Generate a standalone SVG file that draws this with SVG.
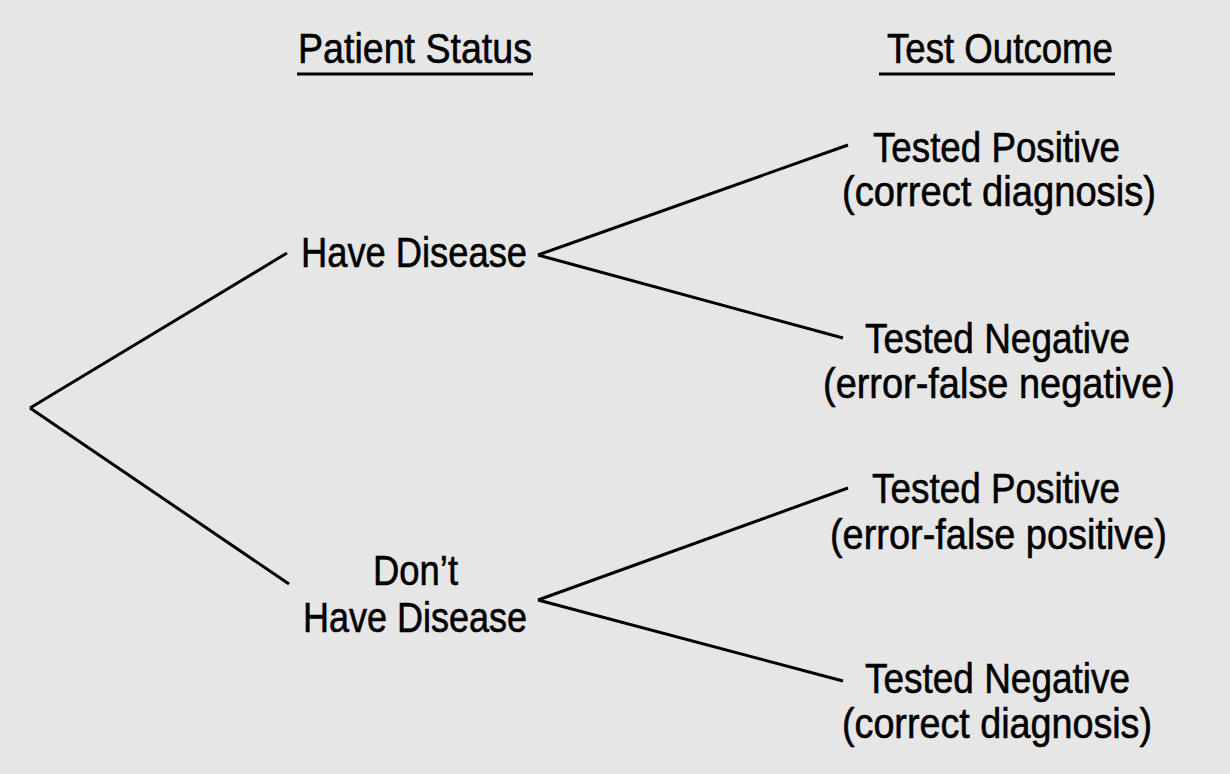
<svg xmlns="http://www.w3.org/2000/svg" width="1230" height="774" viewBox="0 0 1230 774">
<style>
.t{font-family:"Liberation Sans",Arial,sans-serif;font-size:43px;fill:#000;stroke:#000;stroke-width:0.6}
.c line{stroke:#000;stroke-width:3;stroke-linecap:butt}
.u{stroke:#000;stroke-width:3}
</style>
<rect width="1230" height="774" fill="#e6e6e6"/>
<g id="header-patient">
<text class="t" x="298" y="63" textLength="234" lengthAdjust="spacingAndGlyphs">Patient Status</text>
<line class="u" x1="297" y1="74" x2="533" y2="74"/>
</g>
<g id="header-test">
<text class="t" x="887" y="63" textLength="226" lengthAdjust="spacingAndGlyphs">Test Outcome</text>
<line class="u" x1="879" y1="74" x2="1115" y2="74"/>
</g>
<g id="have-disease">
<text class="t" x="301" y="267" textLength="226" lengthAdjust="spacingAndGlyphs">Have Disease</text>
</g>
<g id="dont-have-disease">
<text class="t" x="373" y="585" textLength="85" lengthAdjust="spacingAndGlyphs">Don’t</text>
<text class="t" x="303" y="632" textLength="224" lengthAdjust="spacingAndGlyphs">Have Disease</text>
</g>
<g id="pos-correct">
<text class="t" x="873" y="162" textLength="247" lengthAdjust="spacingAndGlyphs">Tested Positive</text>
<text class="t" x="842" y="206" textLength="314" lengthAdjust="spacingAndGlyphs">(correct diagnosis)</text>
</g>
<g id="neg-false">
<text class="t" x="865" y="353" textLength="265" lengthAdjust="spacingAndGlyphs">Tested Negative</text>
<text class="t" x="823" y="398" textLength="352" lengthAdjust="spacingAndGlyphs">(error-false negative)</text>
</g>
<g id="pos-false">
<text class="t" x="872" y="503" textLength="248" lengthAdjust="spacingAndGlyphs">Tested Positive</text>
<text class="t" x="830" y="549" textLength="337" lengthAdjust="spacingAndGlyphs">(error-false positive)</text>
</g>
<g id="neg-correct">
<text class="t" x="865" y="693" textLength="265" lengthAdjust="spacingAndGlyphs">Tested Negative</text>
<text class="t" x="842" y="738" textLength="310" lengthAdjust="spacingAndGlyphs">(correct diagnosis)</text>
</g>
<g id="connectors" class="c">
<line x1="30" y1="408" x2="287" y2="253"/>
<line x1="30" y1="408" x2="289" y2="584"/>
<line x1="538" y1="255" x2="848" y2="145"/>
<line x1="538" y1="255" x2="843" y2="338"/>
<line x1="538" y1="600" x2="848" y2="488"/>
<line x1="538" y1="600" x2="843" y2="681"/>
</g>
</svg>
